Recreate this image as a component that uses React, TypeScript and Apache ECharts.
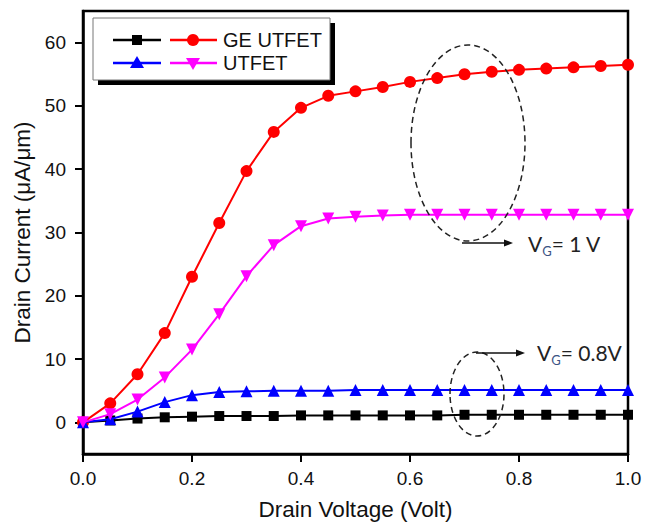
import React, { useEffect, useRef } from "react";
import * as echarts from "echarts";

// Drain voltage (V)
const drainVoltage = [0, 0.05, 0.1, 0.15, 0.2, 0.25, 0.3, 0.35, 0.4, 0.45, 0.5, 0.55, 0.6, 0.65, 0.7, 0.75, 0.8, 0.85, 0.9, 0.95, 1.0];
// Drain current (uA/um)
const geUtfetVg08 = [0, 0.3, 0.6, 0.8, 0.9, 1.0, 1.0, 1.0, 1.1, 1.1, 1.1, 1.1, 1.1, 1.1, 1.2, 1.2, 1.2, 1.2, 1.2, 1.2, 1.2];
const geUtfetVg1 = [0, 3.0, 7.6, 14.1, 23.0, 31.5, 39.7, 45.9, 49.7, 51.6, 52.3, 53.0, 53.8, 54.4, 55.0, 55.4, 55.7, 55.9, 56.1, 56.3, 56.5];
const utfetVg08 = [0, 0.5, 1.7, 3.2, 4.3, 4.8, 4.9, 5.0, 5.0, 5.0, 5.1, 5.1, 5.1, 5.1, 5.1, 5.1, 5.1, 5.1, 5.1, 5.1, 5.1];
const utfetVg1 = [0, 1.3, 3.6, 7.1, 11.5, 17.1, 23.1, 28.0, 31.0, 32.2, 32.5, 32.7, 32.8, 32.8, 32.8, 32.8, 32.8, 32.8, 32.8, 32.8, 32.8];

const yTickValues = [0, 10, 20, 30, 40, 50, 60];
const legendLabels = ["GE UTFET", "UTFET"];
const xAxisTitle = "Drain Voltage (Volt)";
const yAxisTitle = "Drain Current (\u03bcA/\u03bcm)";

const BLACK = "#000000";
const RED = "#ff0000";
const BLUE = "#0000ff";
const MAGENTA = "#ff00ff";

const toPairs = (ys: number[]) => drainVoltage.map((x, i) => [x, ys[i]]);

const AXIS_FONT = "'Liberation Sans', Arial, sans-serif";
const NOTE_FONT = "Lato, 'Open Sans', sans-serif";

export default function App() {
  const ref = useRef<HTMLDivElement>(null);

  useEffect(() => {
    if (!ref.current) return;
    const chart = echarts.init(ref.current, undefined, { renderer: "svg" });

    const lw = 2.5;
    const legendX = 93;
    const legendY = 18;
    const legendW = 237;
    const legendH = 62;
    const row1 = 40;
    const row2 = 63;

    const legendLine = (x1: number, x2: number, y: number, color: string) => ({
      type: "line",
      shape: { x1, y1: y, x2, y2: y },
      style: { stroke: color, lineWidth: 2.5 },
      z: 101,
    });

    const noteRich = {
      v: { fontSize: 21, fontFamily: NOTE_FONT, fill: "#222", lineHeight: 28, verticalAlign: "middle" },
      g: { fontSize: 13, fontFamily: NOTE_FONT, fill: "#3a5383", lineHeight: 13, verticalAlign: "bottom" },
    };

    const option: any = {
      animation: false,
      backgroundColor: "#ffffff",
      grid: {
        left: 83,
        right: 20,
        top: 11,
        bottom: 72,
        containLabel: false,
        outerBoundsMode: "none",
        show: true,
        borderColor: "#000",
        borderWidth: lw,
        backgroundColor: "transparent",
      },
      xAxis: {
        type: "value",
        min: 0,
        max: 1,
        interval: 0.2,
        name: xAxisTitle,
        nameLocation: "middle",
        nameGap: 44,
        nameTextStyle: { fontSize: 22.5, fontFamily: AXIS_FONT, color: "#111" },
        axisLine: { show: true, onZero: false, lineStyle: { color: "#000", width: lw } },
        axisTick: { show: true, inside: false, length: 8, lineStyle: { color: "#000", width: 2 } },
        axisLabel: {
          margin: 15,
          fontSize: 19,
          fontFamily: AXIS_FONT,
          color: "#111",
          formatter: (v: number) => v.toFixed(1),
        },
        splitLine: { show: false },
      },
      yAxis: {
        type: "value",
        min: -5,
        max: 65,
        name: yAxisTitle,
        nameLocation: "middle",
        nameGap: 44,
        nameRotate: 90,
        nameTextStyle: { fontSize: 22.5, fontFamily: AXIS_FONT, color: "#111" },
        axisLine: { show: true, onZero: false, lineStyle: { color: "#000", width: lw } },
        axisTick: { show: true, inside: false, length: 8, customValues: yTickValues, lineStyle: { color: "#000", width: 2 } },
        axisLabel: {
          margin: 17,
          fontSize: 19,
          fontFamily: AXIS_FONT,
          color: "#111",
          customValues: yTickValues,
        },
        splitLine: { show: false },
      },
      series: [
        {
          name: "GE UTFET 0.8V",
          type: "line",
          data: toPairs(geUtfetVg08),
          symbol: "rect",
          symbolSize: 10,
          lineStyle: { color: BLACK, width: 2 },
          itemStyle: { color: BLACK },
          z: 2,
        },
        {
          name: "GE UTFET 1V",
          type: "line",
          data: toPairs(geUtfetVg1),
          symbol: "circle",
          symbolSize: 12,
          lineStyle: { color: RED, width: 2 },
          itemStyle: { color: RED },
          z: 3,
        },
        {
          name: "UTFET 0.8V",
          type: "line",
          data: toPairs(utfetVg08),
          symbol: "triangle",
          symbolSize: 12,
          lineStyle: { color: BLUE, width: 2 },
          itemStyle: { color: BLUE },
          z: 4,
        },
        {
          name: "UTFET 1V",
          type: "line",
          data: toPairs(utfetVg1),
          symbol: "triangle",
          symbolRotate: 180,
          symbolSize: 12,
          lineStyle: { color: MAGENTA, width: 2 },
          itemStyle: { color: MAGENTA },
          z: 5,
        },
      ],
      graphic: [
        // legend box shadow and box
        {
          type: "rect",
          shape: { x: legendX + 5, y: legendY + 5, width: legendW, height: legendH },
          style: { fill: "#000" },
          z: 99,
        },
        {
          type: "rect",
          shape: { x: legendX, y: legendY, width: legendW, height: legendH },
          style: { fill: "#fff", stroke: "#777", lineWidth: 1 },
          z: 100,
        },
        legendLine(113, 161, row1, BLACK),
        { type: "rect", shape: { x: 132, y: row1 - 5, width: 10, height: 10 }, style: { fill: BLACK }, z: 102 },
        legendLine(170, 217, row1, RED),
        { type: "circle", shape: { cx: 193, cy: row1, r: 6 }, style: { fill: RED }, z: 102 },
        {
          type: "text",
          x: 223,
          y: row1,
          style: { text: legendLabels[0], fontSize: 20, fontFamily: AXIS_FONT, fill: "#111", verticalAlign: "middle" },
          z: 102,
        },
        legendLine(113, 161, row2, BLUE),
        {
          type: "polygon",
          shape: { points: [[137, row2 - 7], [130, row2 + 5], [144, row2 + 5]] },
          style: { fill: BLUE },
          z: 102,
        },
        legendLine(170, 217, row2, MAGENTA),
        {
          type: "polygon",
          shape: { points: [[193, row2 + 7], [186, row2 - 5], [200, row2 - 5]] },
          style: { fill: MAGENTA },
          z: 102,
        },
        {
          type: "text",
          x: 223,
          y: row2,
          style: { text: legendLabels[1], fontSize: 20, fontFamily: AXIS_FONT, fill: "#111", verticalAlign: "middle" },
          z: 102,
        },
        // annotation: VG = 1 V
        {
          type: "ellipse",
          shape: { cx: 468, cy: 143, rx: 57, ry: 98 },
          style: { fill: "none", stroke: "#222", lineWidth: 1.5, lineDash: [6, 4] },
          z: 50,
        },
        {
          type: "line",
          shape: { x1: 462, y1: 243, x2: 506, y2: 243 },
          style: { stroke: "#111", lineWidth: 1.5 },
          z: 50,
        },
        {
          type: "polygon",
          shape: { points: [[513, 243], [504, 239.5], [504, 246.5]] },
          style: { fill: "#111" },
          z: 50,
        },
        {
          type: "text",
          x: 528,
          y: 243,
          style: { text: "{v|V}{g|G}{v|= 1 V}", rich: noteRich, verticalAlign: "middle" },
          z: 50,
        },
        // annotation: VG = 0.8V
        {
          type: "ellipse",
          shape: { cx: 477, cy: 394, rx: 27, ry: 42 },
          style: { fill: "none", stroke: "#222", lineWidth: 1.5, lineDash: [6, 4] },
          z: 50,
        },
        {
          type: "line",
          shape: { x1: 476, y1: 353, x2: 518, y2: 353 },
          style: { stroke: "#111", lineWidth: 1.5 },
          z: 50,
        },
        {
          type: "polygon",
          shape: { points: [[525, 353], [516, 349.5], [516, 356.5]] },
          style: { fill: "#111" },
          z: 50,
        },
        {
          type: "text",
          x: 537,
          y: 352,
          style: { text: "{v|V}{g|G}{v|= 0.8V}", rich: noteRich, verticalAlign: "middle" },
          z: 50,
        },
      ],
    };

    chart.setOption(option);
    return () => chart.dispose();
  }, []);

  return <div ref={ref} style={{ width: 648, height: 526, position: "absolute", left: 0, top: 0 }} />;
}
